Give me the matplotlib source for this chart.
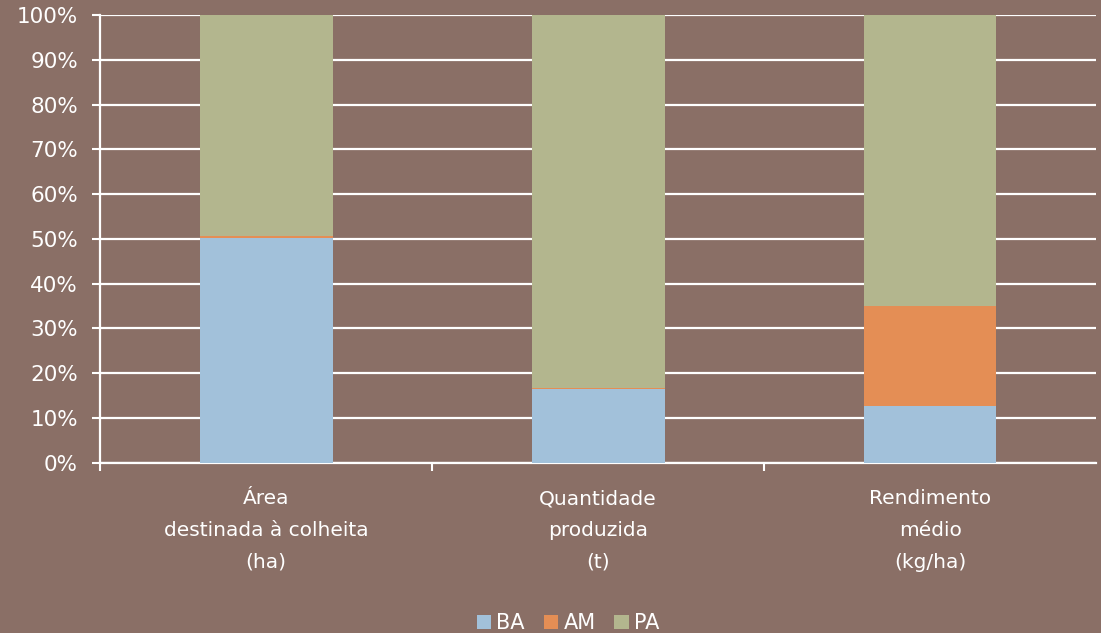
import matplotlib.pyplot as plt
from matplotlib.ticker import FixedLocator, PercentFormatter

plt.rcParams['font.family'] = ['DejaVu Sans']

categories = ['Área\ndestinada à colheita\n(ha)', 'Quantidade\nproduzida\n(t)', 'Rendimento\nmédio\n(kg/ha)']
series_names = ['BA', 'AM', 'PA']
ba = [50.2, 16.5, 12.7]
am = [0.4, 0.3, 22.3]
pa = [49.4, 83.2, 65.0]

colors = ['#A2C1DA', '#E48E55', '#B3B68E']
bg = '#8A6F66'

fig = plt.figure(figsize=(11.01, 6.33), dpi=100, facecolor=bg)
ax = fig.add_axes([0.091, 0.269, 0.9045, 0.707], facecolor=bg)

x = range(len(categories))
bottom = [0, 0, 0]
for name, vals, c in zip(series_names, [ba, am, pa], colors):
    ax.bar(x, vals, width=0.4, bottom=bottom, color=c, label=name, zorder=3)
    bottom = [b + v for b, v in zip(bottom, vals)]

ax.set_xlim(-0.5, 2.5)
ax.set_ylim(0, 100)
ax.set_yticks(range(0, 101, 10))
ax.yaxis.set_major_formatter(PercentFormatter(decimals=0))
ax.grid(axis='y', color='white', linewidth=1.6, zorder=0)

ax.set_xticks(list(x))
ax.set_xticklabels(categories, linespacing=1.85)
ax.xaxis.set_minor_locator(FixedLocator([-0.5, 0.5, 1.5]))
ax.tick_params(axis='x', which='major', length=0, pad=19, colors='white', labelsize=14.5)
ax.tick_params(axis='x', which='minor', length=6, width=1.5, color='white', direction='out')
ax.tick_params(axis='y', length=6, width=1.5, color='white', labelcolor='white', labelsize=15.5, pad=10)

for side in ['top', 'right']:
    ax.spines[side].set_visible(False)
for side in ['left', 'bottom']:
    ax.spines[side].set_color('white')
    ax.spines[side].set_linewidth(1.6)

leg = fig.legend(loc='lower center', bbox_to_anchor=(0.516, -0.03), ncol=3, frameon=False,
                 handlelength=0.7, handleheight=0.7, handletextpad=0.25, columnspacing=0.9,
                 fontsize=15, labelcolor='white')

fig.savefig('out.png', dpi=100, facecolor=bg)
